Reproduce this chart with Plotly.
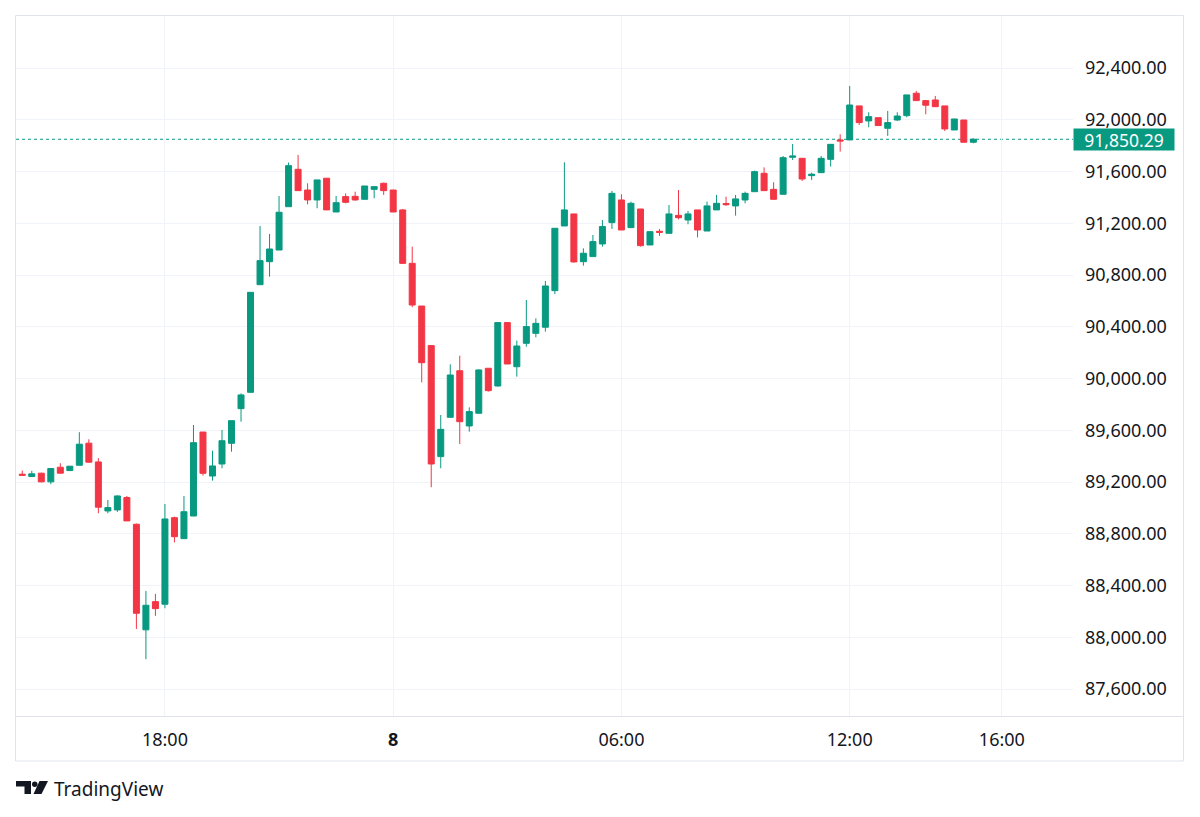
import plotly.graph_objects as go
import pandas as pd

# ---------------- data (15-minute candles, BTC-style price) ----------------
opens = [89261, 89243, 89269, 89202, 89315, 89289, 89330, 89501, 89356, 88977,
         88985, 89081, 88874, 88058, 88276, 88256, 88925, 88763, 88938, 89587,
         89247, 89340, 89500, 89768, 89894, 90726, 90904, 90994, 91329, 91618,
         91458, 91381, 91549, 91288, 91407, 91409, 91386, 91463, 91510, 91458,
         91304, 90891, 90561, 90255, 89397, 89701, 90061, 89634, 89732, 90080,
         89943, 90433, 90092, 90273, 90350, 90397, 90680, 91180, 91273, 90904,
         90943, 91041, 91206, 91381, 91167, 91311, 91033, 91139, 91123, 91262,
         91226, 91304, 91141, 91304, 91353, 91335, 91381, 91445, 91587, 91463,
         91425, 91711, 91703, 91569, 91592, 91695, 91845, 91845, 92108, 91992,
         92017, 91935, 91999, 92033, 92206, 92149, 92154, 92108, 91922, 91999,
         91827]
highs = [89289, 89287, 89272, 89305, 89346, 89323, 89586, 89531, 89385, 89062,
         89098, 89093, 88880, 88359, 88336, 89031, 88933, 89093, 89642, 89587,
         89443, 89603, 89675, 89886, 90667, 91180, 91118, 91412, 91670, 91729,
         91510, 91536, 91549, 91412, 91432, 91445, 91489, 91489, 91515, 91458,
         91311, 91020, 90561, 90255, 89719, 90110, 90177, 89778, 90072, 90080,
         90433, 90433, 90294, 90608, 90466, 90755, 91162, 91672, 91273, 91007,
         91110, 91226, 91451, 91425, 91368, 91311, 91136, 91157, 91342, 91458,
         91296, 91304, 91368, 91420, 91407, 91420, 91445, 91608, 91633, 91518,
         91721, 91814, 91703, 91592, 91721, 91811, 91889, 92262, 92108, 92059,
         92017, 92069, 92059, 92193, 92224, 92154, 92185, 92108, 92007, 91999,
         91858]
lows = [89251, 89243, 89199, 89184, 89269, 89289, 89330, 89351, 88959, 88959,
        88970, 88900, 88065, 87831, 88166, 88225, 88734, 88763, 88938, 89250,
        89211, 89307, 89435, 89667, 89894, 90726, 90788, 90994, 91329, 91453,
        91347, 91317, 91304, 91288, 91355, 91376, 91386, 91394, 91420, 91288,
        90886, 90551, 89971, 89160, 89307, 89701, 89495, 89590, 89732, 89899,
        89938, 90113, 90015, 90247, 90319, 90363, 90654, 91180, 90896, 90873,
        90943, 91020, 91157, 91149, 91167, 91020, 91033, 91103, 91123, 91231,
        91193, 91092, 91141, 91304, 91335, 91260, 91355, 91445, 91453, 91386,
        91425, 91690, 91528, 91536, 91592, 91639, 91755, 91845, 91961, 91943,
        91956, 91876, 91992, 92020, 92149, 92043, 92102, 91914, 91922, 91827,
        91819]
closes = [89253, 89264, 89202, 89305, 89269, 89323, 89493, 89354, 89006, 89003,
          89093, 88900, 88186, 88248, 88222, 88915, 88778, 88971, 89505, 89268,
          89325, 89520, 89675, 89874, 90667, 90912, 91002, 91286, 91646, 91453,
          91381, 91536, 91304, 91360, 91363, 91381, 91489, 91484, 91453, 91288,
          90891, 90569, 90123, 89340, 89608, 90028, 89667, 89745, 90067, 89907,
          90433, 90113, 90252, 90402, 90427, 90716, 91162, 91304, 90902, 90969,
          91059, 91175, 91432, 91149, 91355, 91028, 91136, 91131, 91273, 91244,
          91273, 91149, 91335, 91355, 91345, 91389, 91432, 91600, 91453, 91386,
          91708, 91721, 91543, 91580, 91703, 91811, 91837, 92115, 91979, 92025,
          91956, 91979, 92030, 92193, 92149, 92113, 92102, 91930, 92007, 91827,
          91850.29]

start_time = "2025-12-07 14:15"
price_ticks = [87600, 88000, 88400, 88800, 89200, 89600, 90000, 90400,
               90800, 91200, 91600, 92000, 92400]
time_ticks = ["2025-12-07 18:00", "2025-12-08 00:00", "2025-12-08 06:00",
              "2025-12-08 12:00", "2025-12-08 16:00"]
time_tick_labels = ["18:00", "<b>8</b>", "06:00", "12:00", "16:00"]

# ---------------- layout geometry ----------------
W, H = 1200, 817
ML, MR, MT, MB = 16, 127, 16, 101
PW = W - ML - MR
PH = H - MT - MB


def px_x(px):
    return (px - ML) / PW


def px_y(py):
    return (H - MB - py) / PH


UP = "#089981"
DOWN = "#F23645"
TXT = "#131722"
GRID = "#f0f3fa"
BORDER = "#e0e3eb"
FONT = "Noto Sans"

times = pd.date_range(pd.Timestamp(start_time), periods=len(opens), freq="15min")
step = pd.Timedelta(minutes=15)
x_range = [times[0] - 0.66 * step, times[0] + 110.48 * step]
y_range = [87392, 92803]

fig = go.Figure()
fig.add_trace(go.Candlestick(
    x=times, open=opens, high=highs, low=lows, close=closes,
    increasing=dict(line=dict(color=UP, width=1), fillcolor=UP),
    decreasing=dict(line=dict(color=DOWN, width=1), fillcolor=DOWN),
    whiskerwidth=0, showlegend=False, hoverinfo="skip",
))

last = closes[-1]
shapes = [
    # last price dotted line
    dict(type="line", xref="paper", yref="y", x0=0, x1=1, y0=last, y1=last,
         line=dict(color=UP, width=1, dash="dot"), layer="below"),
    # outer frame
    dict(type="rect", xref="paper", yref="paper",
         x0=px_x(15.5), x1=px_x(1183.5), y0=px_y(761), y1=px_y(15.5),
         line=dict(color=BORDER, width=1), layer="below"),
    # time-axis separator
    dict(type="line", xref="paper", yref="paper",
         x0=px_x(15.5), x1=px_x(1183.5), y0=px_y(716.5), y1=px_y(716.5),
         line=dict(color=BORDER, width=1)),
    # TradingView logo: "T" bar + stem, dot, slanted stroke
    dict(type="rect", xref="paper", yref="paper",
         x0=px_x(16), x1=px_x(31), y0=px_y(786.5), y1=px_y(781),
         fillcolor=TXT, line=dict(width=0)),
    dict(type="rect", xref="paper", yref="paper",
         x0=px_x(24.5), x1=px_x(31), y0=px_y(794), y1=px_y(781),
         fillcolor=TXT, line=dict(width=0)),
    dict(type="circle", xref="paper", yref="paper",
         x0=px_x(32), x1=px_x(37.5), y0=px_y(787), y1=px_y(781.5),
         fillcolor=TXT, line=dict(width=0)),
    dict(type="path", xref="paper", yref="paper",
         path=(f"M {px_x(39.5)},{px_y(781)} L {px_x(48)},{px_y(781)} "
               f"L {px_x(41.5)},{px_y(794)} L {px_x(33.5)},{px_y(794)} Z"),
         fillcolor=TXT, line=dict(width=0)),
]

annotations = [
    dict(text=f"{last:,.2f}", xref="paper", yref="y", x=1, y=last,
         xanchor="left", yanchor="middle", showarrow=False,
         bgcolor=UP, font=dict(color="white", size=17.5, family=FONT),
         width=98, height=19, borderpad=1, align="center"),
    dict(text="TradingView", xref="paper", yref="paper",
         x=px_x(52), y=px_y(789), xanchor="left", yanchor="middle",
         showarrow=False, font=dict(color=TXT, size=19, family=FONT)),
]

fig.update_layout(
    width=W, height=H,
    margin=dict(l=ML, r=MR, t=MT, b=MB, pad=0),
    paper_bgcolor="white", plot_bgcolor="white",
    font=dict(family=FONT, color=TXT, size=18),
    boxgap=0.3, boxgroupgap=0.1,
    hovermode=False,
    shapes=shapes, annotations=annotations,
    xaxis=dict(
        type="date", range=x_range, rangeslider=dict(visible=False),
        tickmode="array", tickvals=time_ticks, ticktext=time_tick_labels,
        showgrid=True, gridcolor=GRID, gridwidth=1,
        showline=False, zeroline=False, ticks="",
        tickfont=dict(size=18, color=TXT, family=FONT),
        ticklabelstandoff=11, fixedrange=True,
    ),
    yaxis=dict(
        side="right", range=y_range,
        tickmode="array", tickvals=price_ticks,
        ticktext=[f"{v:,.2f}" for v in price_ticks],
        showgrid=True, gridcolor=GRID, gridwidth=1,
        showline=False, zeroline=False, ticks="",
        tickfont=dict(size=18, color=TXT, family=FONT),
        ticklabelstandoff=11, fixedrange=True,
    ),
)

fig.write_html("out.html")
